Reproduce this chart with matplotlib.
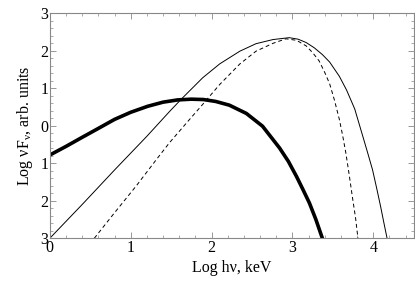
import matplotlib

matplotlib.use("Agg")
import matplotlib.pyplot as plt
from matplotlib.ticker import MultipleLocator, FixedLocator, FixedFormatter

plt.rcParams["font.family"] = ["Liberation Serif", "DejaVu Serif"]
plt.rcParams["mathtext.fontset"] = "custom"
plt.rcParams["mathtext.rm"] = "Liberation Serif"

# thick curve
thick_x = [0.0, 0.2, 0.39, 0.6, 0.8, 1.0, 1.21, 1.4, 1.58, 1.75, 1.9, 2.05, 2.22,
           2.43, 2.63, 2.84, 2.95, 3.05, 3.13, 3.21, 3.29, 3.37]
thick_y = [-0.78, -0.55, -0.32, -0.07, 0.17, 0.36, 0.52, 0.63, 0.69, 0.71, 0.70,
           0.65, 0.55, 0.33, -0.01, -0.59, -0.95, -1.35, -1.7, -2.06, -2.5, -3.0]

# thin solid curve
thin_x = [0.0, 0.4, 0.8, 1.2, 1.48, 1.63, 1.89, 2.1, 2.35, 2.55, 2.76, 2.96, 3.07,
          3.17, 3.27, 3.37, 3.46, 3.58, 3.67, 3.77, 3.87, 3.93, 3.99, 4.04, 4.09,
          4.13, 4.17]
thin_y = [-3.0, -2.1, -1.18, -0.28, 0.38, 0.72, 1.28, 1.65, 1.99, 2.19, 2.30, 2.35,
          2.31, 2.22, 2.08, 1.90, 1.70, 1.32, 0.95, 0.45, -0.28, -0.72, -1.17, -1.65,
          -2.15, -2.58, -3.0]

# dashed curve
dash_x = [0.55, 0.8, 1.07, 1.3, 1.48, 1.7, 1.89, 2.1, 2.35, 2.55, 2.76, 2.92, 3.05,
          3.17, 3.25, 3.33, 3.40, 3.46, 3.52, 3.58, 3.62, 3.66, 3.70, 3.74, 3.78, 3.81]
dash_y = [-3.0, -2.32, -1.6, -0.95, -0.45, 0.1, 0.57, 1.1, 1.65, 1.99, 2.2, 2.32,
          2.28, 2.13, 1.95, 1.73, 1.42, 1.12, 0.68, 0.17, -0.25, -0.72, -1.28, -1.88,
          -2.45, -3.0]

ytick_pos = [-3, -2, -1, 0, 1, 2, 3]
ytick_lab = ["3", "2", "1", "0", "1", "2", "3"]

fig = plt.figure(figsize=(4.15, 2.83), dpi=100)
ax = fig.add_axes([0.12, 0.158, 0.877, 0.795])

ax.plot(thick_x, thick_y, color="black", lw=2.6, solid_joinstyle="round")
ax.plot(thin_x, thin_y, color="black", lw=0.7, solid_joinstyle="round")
ax.plot(dash_x, dash_y, color="black", lw=0.7, dashes=(4, 3))

ax.set_xlim(0, 4.5)
ax.set_ylim(-3, 3)
ax.xaxis.set_major_locator(MultipleLocator(1))
ax.xaxis.set_minor_locator(MultipleLocator(0.2))
ax.yaxis.set_major_locator(FixedLocator(ytick_pos))
ax.yaxis.set_major_formatter(FixedFormatter(ytick_lab))
ax.yaxis.set_minor_locator(MultipleLocator(0.2))

ax.tick_params(which="both", direction="in", top=True, right=True, color="#888888",
               labelsize=11.5)
ax.tick_params(which="major", length=4, width=0.6, pad=1)
ax.tick_params(which="minor", length=2, width=0.5)
for s in ax.spines.values():
    s.set_color("#888888")
    s.set_linewidth(0.8)

ax.set_xlabel("Log hν, keV", fontsize=11.5, labelpad=3)
ax.set_ylabel(r"Log νF$_{\mathrm{ν}}$, arb. units", fontsize=11.5, labelpad=4)

fig.savefig("out.png", dpi=100)
